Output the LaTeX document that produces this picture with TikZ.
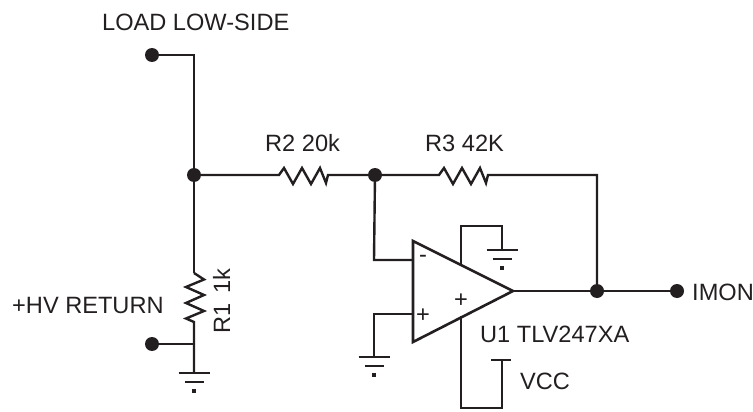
\documentclass[tikz,border=0pt]{standalone}
\usepackage{fontspec}
\setmainfont{Liberation Sans}
\definecolor{ink}{HTML}{231F20}
\tikzset{
  wire/.style={draw=ink,line width=2.4pt,line join=miter},
  lbl/.style={text=ink,font=\fontsize{23.6}{26}\selectfont,inner sep=0pt},
  sgn/.style={text=ink,font=\fontsize{23.6}{26}\selectfont,inner sep=0pt},
  dot/.style={circle,fill=ink,draw=none,minimum size=14pt,inner sep=0pt},
}
\newcommand{\gnd}[2]{%
  \draw[wire] (#1-15.5,#2) -- (#1+15.5,#2);
  \draw[wire] (#1-9.5,#2+9) -- (#1+9.5,#2+9);
  \fill[ink] (#1-2,#2+16) rectangle (#1+2,#2+20);
}
\begin{document}
\begin{tikzpicture}[x=1pt,y=-1pt]
\useasboundingbox (0,0) rectangle (753,412);
% nodes
\node[dot] (load) at (152,55) {};
\node[dot] (hv) at (152,344) {};
\node[dot] (j1) at (194,175) {};
\node[dot] (j2) at (375,175) {};
\node[dot] (j3) at (597,291) {};
\node[dot] (imon) at (677,291) {};
\coordinate (lc) at (194,55);
\coordinate (r1t) at (194,273);
\coordinate (r1b) at (194,322);
\coordinate (g1) at (194,373);
\coordinate (hvt) at (194,344);
\coordinate (r2l) at (279,175);
\coordinate (r2r) at (328,175);
\coordinate (r3l) at (439,175);
\coordinate (r3r) at (488,175);
\coordinate (tl) at (413,241);
\coordinate (bl) at (413,342);
\coordinate (tip) at (513,291);
% wires
\draw[wire] (load) -- (lc) -- (j1) -- (r1t);
\draw[wire] (r1t) -- (204,279.5) -- (186,287) -- (204,295) -- (186,303) -- (204,311) -- (186,318.5) -- (r1b) -- (g1);
\draw[wire] (hv) -- (hvt);
\gnd{194}{373}
\draw[wire] (j1) -- (r2l) -- (284,168) -- (293,184) -- (302,168) -- (311,184) -- (320,168) -- (326,183) -- (r2r) -- (j2);
\draw[wire] (j2) -- (r3l) -- (444,168) -- (453,184) -- (462,168) -- (471,184) -- (480,168) -- (486,183) -- (r3r) -- (597,175) -- (j3);
\draw[wire] (j2) -- (374,260) -- (413,260);
% op amp
\draw[wire,line width=2.6pt] (tl) -- (tip) -- (bl) -- cycle;
\draw[wire] (tip) -- (j3) -- (imon);
\draw[wire] (374,357) -- (374,314) -- (413,314);
\gnd{374}{357}
\draw[wire] (461,266) -- (461,226) -- (502,226) -- (502,250);
\gnd{502}{250}
\draw[wire] (461,316) -- (461,408) -- (502,408) -- (502,360);
\draw[wire] (491,360) -- (511,360);
% text
\node[lbl,anchor=base west] (t1) at (102,31) {LOAD LOW-SIDE};
\node[lbl,anchor=base west] (t2) at (265,151) {R2 20k};
\node[lbl,anchor=base west] (t3) at (425,151) {R3 42K};
\node[lbl,anchor=base west] (t4) at (12,313) {+HV RETURN};
\node[lbl,anchor=base,rotate=90] (t5) at (230,301) {R1\hspace{3pt} 1k};
\node[lbl,anchor=base west] (t6) at (480,342) {U1 TLV247XA};
\node[lbl,anchor=base west] (t7) at (520,389) {VCC};
\node[lbl,anchor=base west] (t8) at (692,300) {IMON};
\node[sgn] (s1) at (423,259) {-};
\node[sgn] (s2) at (423,316) {+};
\node[sgn] (s3) at (461,301) {+};
\end{tikzpicture}
\end{document}
